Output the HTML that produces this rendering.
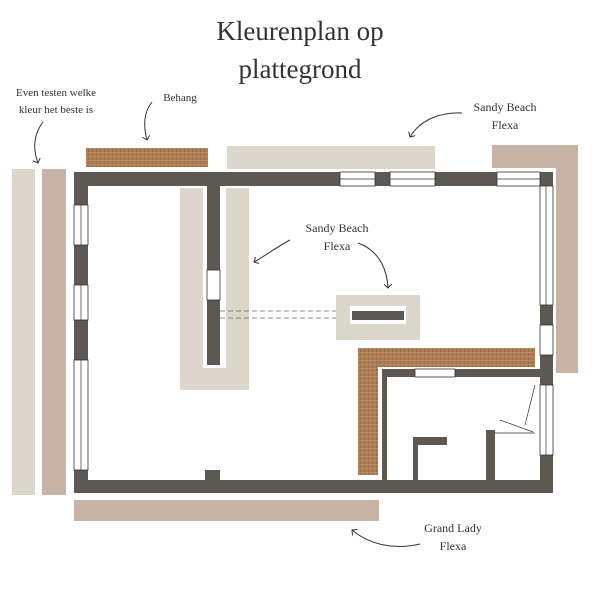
<!DOCTYPE html>
<html><head><meta charset="utf-8"><style>
html,body{margin:0;padding:0;background:#fff;}
svg{display:block;}
text{font-family:"Liberation Serif",serif;fill:#333;}
</style></head><body>
<svg width="600" height="600" viewBox="0 0 600 600" xmlns="http://www.w3.org/2000/svg">
<defs>
<pattern id="br" width="4" height="4" patternUnits="userSpaceOnUse">
<rect width="4" height="4" fill="#ad7d55"/><rect width="1" height="4" fill="#9c6c46"/><rect width="4" height="1" fill="#b98a62"/>
</pattern>
<marker id="ah" markerWidth="8" markerHeight="8" refX="4" refY="4" orient="auto"><path d="M0,0 L4,4 L0,8" fill="none" stroke="#333" stroke-width="1"/></marker>
</defs>
<text x="300" y="40" font-size="27" text-anchor="middle">Kleurenplan op</text>
<text x="300" y="78" font-size="27" text-anchor="middle">plattegrond</text>

<text x="56" y="96" font-size="11" text-anchor="middle">Even testen welke</text>
<text x="56" y="113" font-size="11" text-anchor="middle">kleur het beste is</text>
<text x="180" y="101" font-size="11" text-anchor="middle">Behang</text>
<text x="505" y="111" font-size="12" text-anchor="middle">Sandy Beach</text>
<text x="505" y="129" font-size="12" text-anchor="middle">Flexa</text>
<text x="337" y="232" font-size="12" text-anchor="middle">Sandy Beach</text>
<text x="337" y="250" font-size="12" text-anchor="middle">Flexa</text>
<text x="453" y="532" font-size="12" text-anchor="middle">Grand Lady</text>
<text x="453" y="550" font-size="12" text-anchor="middle">Flexa</text>

<g fill="none" stroke="#333" stroke-width="1">
<path d="M43,122 C33,135 33,150 38,163" marker-end="url(#ah)"/>
<path d="M152,102 C144,112 143,125 147,140" marker-end="url(#ah)"/>
<path d="M462,113 C440,112 420,120 410,137" marker-end="url(#ah)"/>
<path d="M290,240 C275,248 265,256 254,262" marker-end="url(#ah)"/>
<path d="M358,243 C378,250 387,268 388,288" marker-end="url(#ah)"/>
<path d="M420,544 C395,550 370,545 352,530" marker-end="url(#ah)"/>
</g>

<!-- swatches -->
<rect x="12" y="169" width="23" height="326" fill="#ddd6cb"/>
<rect x="42" y="169" width="24" height="326" fill="#c8b4a6"/>
<rect x="86" y="148" width="122" height="19" fill="url(#br)"/>
<rect x="227" y="146" width="208" height="23" fill="#ddd6cb"/>
<path d="M492,145 H578 V373 H556 V168 H492 Z" fill="#c8b4a6"/>
<rect x="74" y="500" width="305" height="21" fill="#c8b4a6"/>
<rect x="180" y="188" width="23" height="202" fill="#ddd6cb"/>
<rect x="226" y="188" width="23" height="202" fill="#ddd6cb"/>
<rect x="180" y="368" width="69" height="22" fill="#ddd6cb"/>
<rect x="336" y="295" width="84" height="45" fill="#ddd6cb"/>
<rect x="350" y="306" width="56" height="18" fill="#fff"/>
<rect x="352" y="311" width="52" height="9" fill="#5e5852"/>
<rect x="358" y="348" width="177" height="19" fill="url(#br)"/>
<rect x="358" y="348" width="20" height="127" fill="url(#br)"/>

<!-- walls -->
<g fill="#5e5852">
<rect x="74" y="172" width="479" height="14"/>
<rect x="74" y="172" width="14" height="321"/>
<rect x="74" y="480" width="479" height="13"/>
<rect x="540" y="172" width="13" height="321"/>
<rect x="207" y="186" width="13" height="179"/>
<rect x="382" y="369" width="158" height="8"/>
<rect x="382" y="369" width="5" height="113"/>
<rect x="413" y="437" width="34" height="8"/>
<rect x="413" y="437" width="5" height="45"/>
<rect x="486" y="430" width="9" height="52"/>
<rect x="205" y="470" width="15" height="10"/>
</g>
<!-- windows -->
<g fill="#fff" stroke="#333" stroke-width="0.8">
<rect x="340" y="172" width="35" height="14"/>
<rect x="390" y="172" width="45" height="14"/>
<rect x="497" y="172" width="43" height="14"/>
<rect x="540" y="186" width="13" height="119"/>
<rect x="540" y="325" width="13" height="30"/>
<rect x="540" y="385" width="13" height="70"/>
<rect x="74" y="205" width="14" height="40"/>
<rect x="74" y="285" width="14" height="35"/>
<rect x="74" y="360" width="14" height="110"/>
<rect x="207" y="270" width="13" height="30"/>
<rect x="415" y="369" width="40" height="8"/>
</g>
<g stroke="#333" stroke-width="0.7" fill="none">
<line x1="340" y1="179" x2="375" y2="179"/><line x1="390" y1="179" x2="435" y2="179"/><line x1="497" y1="179" x2="540" y2="179"/>
<line x1="546" y1="186" x2="546" y2="305"/><line x1="546" y1="385" x2="546" y2="455"/>
<line x1="81" y1="205" x2="81" y2="245"/><line x1="81" y1="285" x2="81" y2="320"/><line x1="81" y1="360" x2="81" y2="470"/>
<line x1="495" y1="433" x2="535" y2="433"/><line x1="500" y1="420" x2="533" y2="432"/><line x1="525" y1="425" x2="535" y2="385"/>
</g>
<g stroke="#666" stroke-width="0.8" stroke-dasharray="5,3">
<line x1="220" y1="311" x2="336" y2="311"/><line x1="220" y1="318" x2="336" y2="318"/>
</g>
</svg>
</body></html>
